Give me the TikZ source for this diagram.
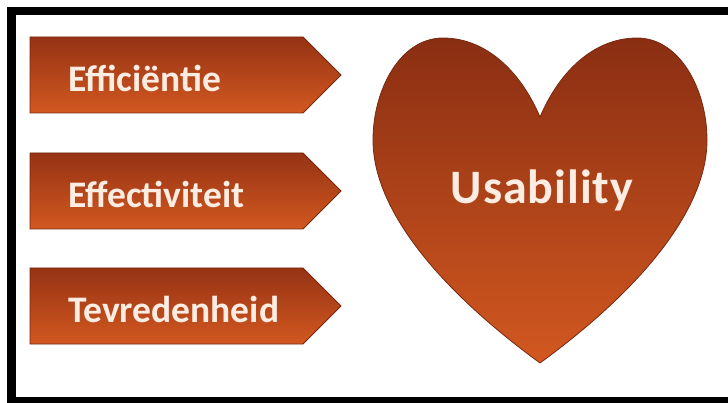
\documentclass[tikz,border=0pt]{standalone}
\usepackage{fontspec}
\setmainfont{Carlito}
\definecolor{topc}{RGB}{150,50,20}
\definecolor{botc}{RGB}{210,88,32}
\definecolor{edgec}{RGB}{120,40,15}
\definecolor{txtc}{RGB}{252,236,226}
\tikzset{
  arrowbox/.style={top color=topc, bottom color=botc, draw=edgec, line width=0.8pt, line join=miter},
  heartshape/.style={top color=topc!92!black, bottom color=botc, draw=edgec, line width=0.8pt},
  boxlabel/.style={anchor=base west, inner sep=0pt, text=txtc, font=\fontsize{37.5}{40}\selectfont\bfseries},
  heartlabel/.style={anchor=base, inner sep=0pt, text=txtc, font=\fontsize{48}{52}\selectfont\bfseries\addfontfeature{LetterSpace=2}},
  framebar/.style={fill=black}
}
\begin{document}
\begin{tikzpicture}[x=1pt,y=-1pt]
\useasboundingbox (0,0) rectangle (728,403);
\fill[white] (0,0) rectangle (728,403);
% frame
\fill[framebar] (7,7) rectangle (728,15);
\fill[framebar] (7,7) rectangle (16,403);
\fill[framebar] (7,397) rectangle (728,403);
% arrow boxes
\path[arrowbox] (30,37) -- (303,37) -- (341,75) -- (303,113) -- (30,113) -- cycle;
\path[arrowbox] (30,153) -- (303,153) -- (341,191) -- (303,229) -- (30,229) -- cycle;
\path[arrowbox] (30,268) -- (303,268) -- (341,306) -- (303,344) -- (30,344) -- cycle;
\node[boxlabel] (t1) at (68,92) {Efficiëntie};
\node[boxlabel] (t2) at (68,208) {Effectiviteit};
\node[boxlabel] (t3) at (68,323) {Tevredenheid};
% heart
\path[heartshape] (540,117)
  .. controls (520,70) and (485,38) .. (443,38)
  .. controls (400,38) and (373,90) .. (373,140)
  .. controls (373,210) and (440,290) .. (540,363)
  .. controls (640,290) and (707,210) .. (707,140)
  .. controls (707,90) and (680,38) .. (637,38)
  .. controls (595,38) and (560,70) .. (540,117) -- cycle;
\node[heartlabel] (u) at (542,204) {Usability};
\end{tikzpicture}
\end{document}
